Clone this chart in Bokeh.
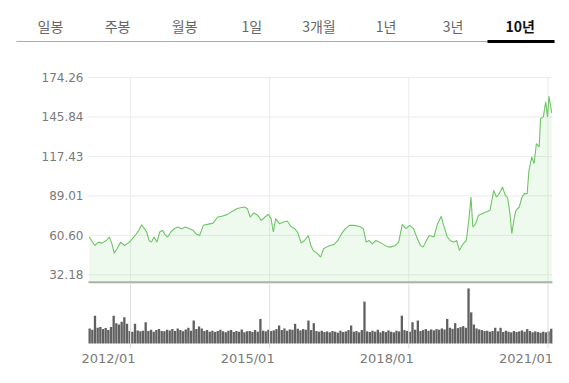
import numpy as np
from bokeh.plotting import figure
from bokeh.models import Range1d
from bokeh.embed import file_html
from bokeh.resources import INLINE
from bokeh.core.properties import value

# ---------------- data ----------------
TABS = ["일봉", "주봉", "월봉", "1일", "3개월", "1년", "3년", "10년"]
SELECTED = "10년"

Y_TICKS = [32.18, 60.60, 89.01, 117.43, 145.84, 174.26]
X_TICKS = [2012.0, 2015.0, 2018.0, 2021.0]
X_TICK_LABELS = ["2012/01", "2015/01", "2018/01", "2021/01"]

price_t = [2011.11, 2011.16, 2011.23, 2011.31, 2011.38, 2011.48, 2011.54, 2011.59, 2011.65, 2011.71,
           2011.79, 2011.87, 2011.95, 2012.02, 2012.10, 2012.18, 2012.24, 2012.30, 2012.35, 2012.40,
           2012.45, 2012.51, 2012.57, 2012.63, 2012.69, 2012.74, 2012.80, 2012.87, 2012.94, 2013.02,
           2013.10, 2013.19, 2013.27, 2013.35, 2013.41, 2013.49, 2013.57, 2013.66, 2013.78, 2013.88,
           2013.97, 2014.09, 2014.21, 2014.29, 2014.37, 2014.46, 2014.52, 2014.58, 2014.66, 2014.74,
           2014.82, 2014.90, 2014.97, 2015.03, 2015.08, 2015.13, 2015.21, 2015.30, 2015.38, 2015.46,
           2015.54, 2015.60, 2015.68, 2015.75, 2015.83, 2015.89, 2015.94, 2016.02, 2016.10, 2016.16,
           2016.22, 2016.30, 2016.39, 2016.47, 2016.55, 2016.63, 2016.72, 2016.82, 2016.94, 2017.02,
           2017.08, 2017.14, 2017.21, 2017.29, 2017.37, 2017.45, 2017.53, 2017.60, 2017.71, 2017.78,
           2017.86, 2017.94, 2018.02, 2018.10, 2018.17, 2018.25, 2018.31, 2018.36, 2018.44, 2018.54,
           2018.62, 2018.70, 2018.75, 2018.83, 2018.89, 2018.97, 2019.03, 2019.09, 2019.17, 2019.24,
           2019.30, 2019.34, 2019.38, 2019.44, 2019.50, 2019.58, 2019.66, 2019.75, 2019.83, 2019.89,
           2019.95, 2020.02, 2020.08, 2020.13, 2020.18, 2020.22, 2020.27, 2020.31, 2020.38, 2020.44,
           2020.49, 2020.55, 2020.59, 2020.65, 2020.70, 2020.75, 2020.81, 2020.84, 2020.90, 2020.95,
           2020.99, 2021.02, 2021.08]

price = [59.4, 56.9, 53.3, 55.7, 55.0, 56.9, 59.4, 55.7, 47.8, 50.9,
         55.7, 53.3, 55.0, 57.4, 60.5, 64.2, 68.2, 65.4, 63.0, 56.9,
         55.7, 59.4, 55.7, 63.0, 64.2, 61.3, 59.4, 63.0, 65.4, 66.6,
         65.4, 66.6, 65.4, 64.2, 61.8, 60.5, 67.8, 68.5, 69.4, 73.8,
         74.3, 75.7, 78.1, 79.8, 80.5, 81.0, 79.8, 73.8, 76.7, 75.0,
         71.4, 73.8, 75.7, 72.6, 63.0, 72.6, 69.0, 70.2, 70.9, 67.0,
         65.4, 63.0, 55.0, 56.9, 60.5, 53.3, 49.7, 47.8, 44.9, 50.9,
         52.1, 53.3, 54.1, 56.9, 61.8, 65.4, 67.8, 67.8, 67.0, 65.4,
         55.7, 56.9, 54.5, 56.9, 55.7, 54.1, 52.6, 52.1, 53.3, 55.7,
         68.5, 65.4, 67.8, 65.4, 59.4, 53.3, 52.1, 55.7, 60.5, 59.4,
         69.0, 74.3, 67.8, 59.4, 56.9, 55.7, 56.9, 49.7, 54.5, 56.9,
         73.8, 88.2, 66.6, 69.0, 75.0, 76.2, 77.4, 78.6, 93.0, 88.2,
         90.6, 95.4, 89.4, 87.7, 76.2, 61.8, 72.6, 78.6, 81.0, 88.2,
         90.6, 90.6, 107.4, 117.0, 112.2, 126.7, 124.3, 144.7, 145.9, 156.7,
         145.9, 160.8, 148.8]

volume = [46, 42, 85, 48, 50, 44, 47, 41, 50, 85,
          62, 58, 66, 80, 60, 38, 36, 60, 40, 37,
          39, 65, 38, 42, 36, 41, 44, 38, 37, 42,
          40, 44, 38, 46, 41, 37, 43, 48, 39, 70,
          44, 52, 46, 38, 41, 36, 39, 35, 38, 42,
          37, 34, 39, 41, 35, 38, 36, 43, 34, 37,
          38, 35, 41, 36, 75, 39, 37, 42, 38, 40,
          44, 55, 41, 46, 39, 43, 42, 60, 45, 40,
          44, 42, 70, 41, 62, 38, 36, 39, 35, 37,
          34, 38, 36, 33, 39, 35, 37, 41, 55, 36,
          38, 34, 41, 128, 37, 35, 39, 36, 42, 34,
          38, 35, 40, 36, 34, 39, 37, 85, 41, 38,
          36, 65, 42, 70, 38, 41, 44, 39, 43, 40,
          44, 42, 46, 43, 75, 48, 45, 62, 47, 50,
          53, 48, 168, 95, 58, 46, 43, 41, 38, 39,
          36, 38, 48, 37, 48, 35, 39, 36, 34, 38,
          35, 37, 40, 36, 44, 38, 34, 37, 35, 33,
          36, 34, 37, 45]
volume_t = np.linspace(2011.12, 2021.07, len(volume))

# ---------------- page geometry (pixels) ----------------
W, H = 569, 383
FRAME_L, FRAME_R = 88, 552          # chart area left / right
PRICE_TOP, PRICE_BOT = 77, 283      # price area top / bottom
VOL_TOP, VOL_BASE = 284, 343        # volume area top / baseline
T0, T1 = 2011.095, 2021.097         # time at FRAME_L / FRAME_R
VOL_MAX = 180.0                     # volume value at VOL_TOP

px_per_year = (FRAME_R - FRAME_L) / (T1 - T0)
px_per_price = 197.3 / (Y_TICKS[-1] - Y_TICKS[0])
vol_per_px = VOL_MAX / (VOL_BASE - VOL_TOP)

GRID = "#ebebeb"
LABEL_COLOR = "#7a7a7a"
NUM_FONT = value("DejaVu Sans")
KR_FONT = value("Noto Sans CJK KR")

p = figure(width=W, height=H, x_range=Range1d(0, W), y_range=Range1d(H, 0),
           x_axis_type=None, y_axis_type=None, toolbar_location=None,
           output_backend="svg", min_border=0, outline_line_color=None)
p.extra_x_ranges = {"t": Range1d(T0 - FRAME_L / px_per_year, T0 + (W - FRAME_L) / px_per_year)}
top_val = Y_TICKS[-1]
p.extra_y_ranges = {
    "price": Range1d(top_val - (H - PRICE_TOP) / px_per_price, top_val + PRICE_TOP / px_per_price),
    "vol": Range1d(-(H - VOL_BASE) * vol_per_px, VOL_BASE * vol_per_px),
}
y_bot = top_val - (PRICE_BOT - PRICE_TOP) / px_per_price

# ---------------- tabs ----------------
tab_x = [50 + i * 67.1 for i in range(len(TABS))]
un_x = [x for x, t in zip(tab_x, TABS) if t != SELECTED]
un_t = [t for t in TABS if t != SELECTED]
sel_x = [x for x, t in zip(tab_x, TABS) if t == SELECTED]
p.text(x=un_x, y=[25] * len(un_x), text=un_t, text_color="#666666",
       text_font=KR_FONT, text_font_size="14px", text_align="center", text_baseline="middle")
p.text(x=sel_x, y=[25], text=[SELECTED], text_color="#111111", text_font_style="bold",
       text_font=KR_FONT, text_font_size="14px", text_align="center", text_baseline="middle")
p.segment(x0=[16], y0=[41], x1=[554], y1=[41], line_color="#aaaaaa", line_width=1)
p.segment(x0=[487], y0=[41], x1=[554], y1=[41], line_color="#000000", line_width=3)

# ---------------- price chart ----------------
n_y = len(Y_TICKS)
p.segment(x0=[T0] * n_y, x1=[T1] * n_y, y0=Y_TICKS, y1=Y_TICKS, line_color=GRID,
          x_range_name="t", y_range_name="price")
p.segment(x0=X_TICKS, x1=X_TICKS, y0=[y_bot] * len(X_TICKS), y1=[top_val] * len(X_TICKS),
          line_color=GRID, x_range_name="t", y_range_name="price")
p.varea(x=price_t, y1=y_bot, y2=price, fill_color="#33cc33", fill_alpha=0.09,
        x_range_name="t", y_range_name="price")
p.line(price_t, price, line_color="#6fc566", line_width=1.1,
       x_range_name="t", y_range_name="price")
axis_y = y_bot + 1.3 / px_per_price
p.segment(x0=[T0], x1=[T1], y0=[axis_y], y1=[axis_y], line_color="#a9b3a6", line_width=2,
          x_range_name="t", y_range_name="price")
p.text(x=[T0] * n_y, y=Y_TICKS, text=[f"{v:.2f}" for v in Y_TICKS], x_offset=-5,
       text_align="right", text_baseline="middle", text_font=NUM_FONT, text_font_size="12px",
       text_color=LABEL_COLOR, x_range_name="t", y_range_name="price")

# ---------------- volume chart ----------------
p.vbar(x=volume_t, top=volume, bottom=0, width=0.05, fill_color="#606060", line_color=None,
       x_range_name="t", y_range_name="vol")
n_x = len(X_TICKS)
p.segment(x0=X_TICKS, x1=X_TICKS, y0=[-5 * vol_per_px] * n_x, y1=[VOL_MAX] * n_x,
          line_color="#dddddd", x_range_name="t", y_range_name="vol")
label_y = -(357.5 - VOL_BASE) * vol_per_px
p.text(x=X_TICKS, y=[label_y] * n_x, text=X_TICK_LABELS, x_offset=5,
       text_align="right", text_baseline="middle", text_font=NUM_FONT, text_font_size="13px",
       text_color=LABEL_COLOR, x_range_name="t", y_range_name="vol")

open("out.html", "w").write(file_html(p, INLINE))
